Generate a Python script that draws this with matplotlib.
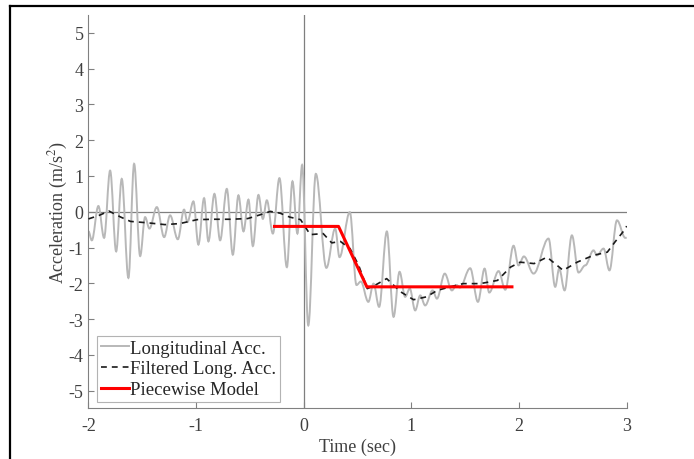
import matplotlib
matplotlib.use("Agg")
import matplotlib.pyplot as plt
from matplotlib.lines import Line2D
from matplotlib.path import Path
from matplotlib.patches import PathPatch

raw_t = [-2.000, -1.969, -1.908, -1.855, -1.799, -1.743, -1.691, -1.629, -1.576, -1.520,
         -1.474, -1.434, -1.365, -1.297, -1.242, -1.170, -1.112, -1.081, -1.025, -0.979,
         -0.926, -0.886, -0.830, -0.777, -0.715, -0.659, -0.607, -0.560, -0.514, -0.473,
         -0.421, -0.380, -0.343, -0.287, -0.226, -0.157, -0.105, -0.059, -0.015, 0.042,
         0.112, 0.210, 0.292, 0.332, 0.428, 0.490, 0.530, 0.600, 0.648, 0.700,
         0.772, 0.834, 0.890, 0.942, 0.985, 1.035, 1.082, 1.128, 1.197, 1.237,
         1.310, 1.376, 1.420, 1.450, 1.546, 1.618, 1.680, 1.723, 1.810, 1.872,
         1.949, 1.995, 2.045, 2.135, 2.274, 2.336, 2.373, 2.423, 2.491, 2.553,
         2.615, 2.692, 2.724, 2.785, 2.840, 2.910, 2.987, 3.000]
raw_acc = [-0.55, -0.80, 0.16, -0.73, 1.15, -1.11, 0.92, -1.85, 1.34, -1.24,
           -0.15, -0.47, 0.13, -0.71, -0.10, -0.77, 0.06, -0.29, 0.29, -0.92,
           0.38, -0.83, 0.50, -0.80, 0.64, -1.20, 0.46, -0.55, 0.34, -0.96,
           0.47, -0.20, 0.32, -0.61, 0.94, -1.55, 0.85, -0.61, 1.31, -3.18,
           1.06, -1.57, -0.47, -1.27, -0.01, -2.05, -1.95, -2.52, -2.01, -2.66,
           -0.55, -2.94, -1.68, -2.38, -2.15, -2.76, -2.34, -2.62, -2.20, -2.43,
           -1.73, -2.20, -2.05, -2.12, -1.58, -2.52, -1.59, -2.26, -1.66, -2.18,
           -0.95, -1.50, -1.25, -1.73, -0.75, -2.10, -1.59, -2.20, -0.66, -1.70,
           -1.50, -1.08, -1.22, -1.03, -1.64, -0.24, -0.73, -0.73]

# filtered signal
filt_t = [-2.00, -1.90, -1.81, -1.70, -1.61, -1.45, -1.29, -1.15, -0.99, -0.83,
          -0.68, -0.52, -0.40, -0.31, -0.22, -0.13, -0.03, 0.06, 0.18, 0.26,
          0.34, 0.43, 0.51, 0.59, 0.66, 0.77, 0.90, 1.02, 1.14, 1.24,
          1.36, 1.48, 1.64, 1.80, 1.92, 2.01, 2.14, 2.26, 2.41, 2.54,
          2.69, 2.82, 2.89, 2.99, 3.00]
filt_acc = [-0.20, -0.10, 0.02, -0.15, -0.27, -0.31, -0.36, -0.33, -0.22, -0.21,
            -0.21, -0.19, -0.08, 0.01, -0.04, -0.15, -0.22, -0.64, -0.61, -0.87,
            -0.83, -1.03, -1.50, -2.15, -2.06, -1.87, -2.24, -2.46, -2.38, -2.20,
            -2.10, -2.01, -2.01, -1.92, -1.55, -1.41, -1.45, -1.27, -1.64, -1.41,
            -1.22, -1.13, -0.85, -0.47, -0.40]

# piecewise model
model_t = [-0.272, 0.323, 0.586, 1.934]
model_acc = [-0.41, -0.41, -2.10, -2.10]

plt.rcParams['font.family'] = ['Liberation Serif', 'DejaVu Serif']
plt.rcParams['mathtext.fontset'] = 'stix'
plt.rcParams['axes.unicode_minus'] = False


def smooth_path(xs, ys, k=0.36):
    # cubic bezier between extrema, flat tangent at every peak/trough
    verts = [(xs[0], ys[0])]
    codes = [Path.MOVETO]
    for i in range(len(xs) - 1):
        dx = xs[i + 1] - xs[i]
        verts += [(xs[i] + k * dx, ys[i]), (xs[i + 1] - k * dx, ys[i + 1]), (xs[i + 1], ys[i + 1])]
        codes += [Path.CURVE4] * 3
    return Path(verts, codes)


fig = plt.figure(figsize=(6.94, 4.60), dpi=100)
ax = fig.add_axes([0.1275, 0.110, 0.7755, 0.855])

# reference lines through the origin
ax.axhline(0, color='#7f7f7f', lw=0.9, zorder=1)
ax.axvline(0, color='#7f7f7f', lw=0.9, zorder=1)

raw_col = '#b8b8b8'
ax.add_patch(PathPatch(smooth_path(raw_t, raw_acc), fc='none', ec=raw_col, lw=1.4, zorder=2))
ax.plot([], [], color=raw_col, lw=1.4, label='Longitudinal Acc.')
ax.plot(filt_t, filt_acc, color='#1a1a1a', lw=1.2, ls=(0, (3.5, 3)), label='Filtered Long. Acc.', zorder=3)
ax.plot(model_t, model_acc, color='#ff0000', lw=2.2, label='Piecewise Model', zorder=4)

ax.set_xlim(-2, 3)
ax.set_ylim(-5.5, 5.5)
ax.set_xticks(range(-2, 4))
ax.set_yticks(range(-5, 6))
for s in ['top', 'right']:
    ax.spines[s].set_visible(False)
for s in ['left', 'bottom']:
    ax.spines[s].set_color('#808080')
    ax.spines[s].set_linewidth(0.8)
ax.tick_params(direction='in', length=4, width=0.8, color='#808080',
               labelcolor='#404040', labelsize=13)
ax.tick_params(axis='x', pad=6)
ax.set_xlabel('Time (sec)', fontsize=13, color='#404040', labelpad=3)
ax.set_ylabel('Acceleration (m/s$^2$)', fontsize=13, color='#404040', labelpad=-1)

leg = ax.legend(loc='lower left', bbox_to_anchor=(0.016, 0.016), fontsize=13.5,
                frameon=True, fancybox=False, handlelength=1.5, handletextpad=0.05,
                borderpad=0.2, labelspacing=0.2, borderaxespad=0)
leg.get_frame().set_edgecolor('#a0a0a0')
leg.get_frame().set_linewidth(0.8)
for t in leg.get_texts():
    t.set_color('#262626')

# outer frame (top and left edge of the original figure border)
fig.add_artist(Line2D([10 / 694, 10 / 694], [0, 1 - 7 / 460], transform=fig.transFigure,
                      color='black', lw=1.6))
fig.add_artist(Line2D([10 / 694, 1], [1 - 7 / 460, 1 - 7 / 460], transform=fig.transFigure,
                      color='black', lw=1.6))

fig.savefig('out.png', dpi=100)
